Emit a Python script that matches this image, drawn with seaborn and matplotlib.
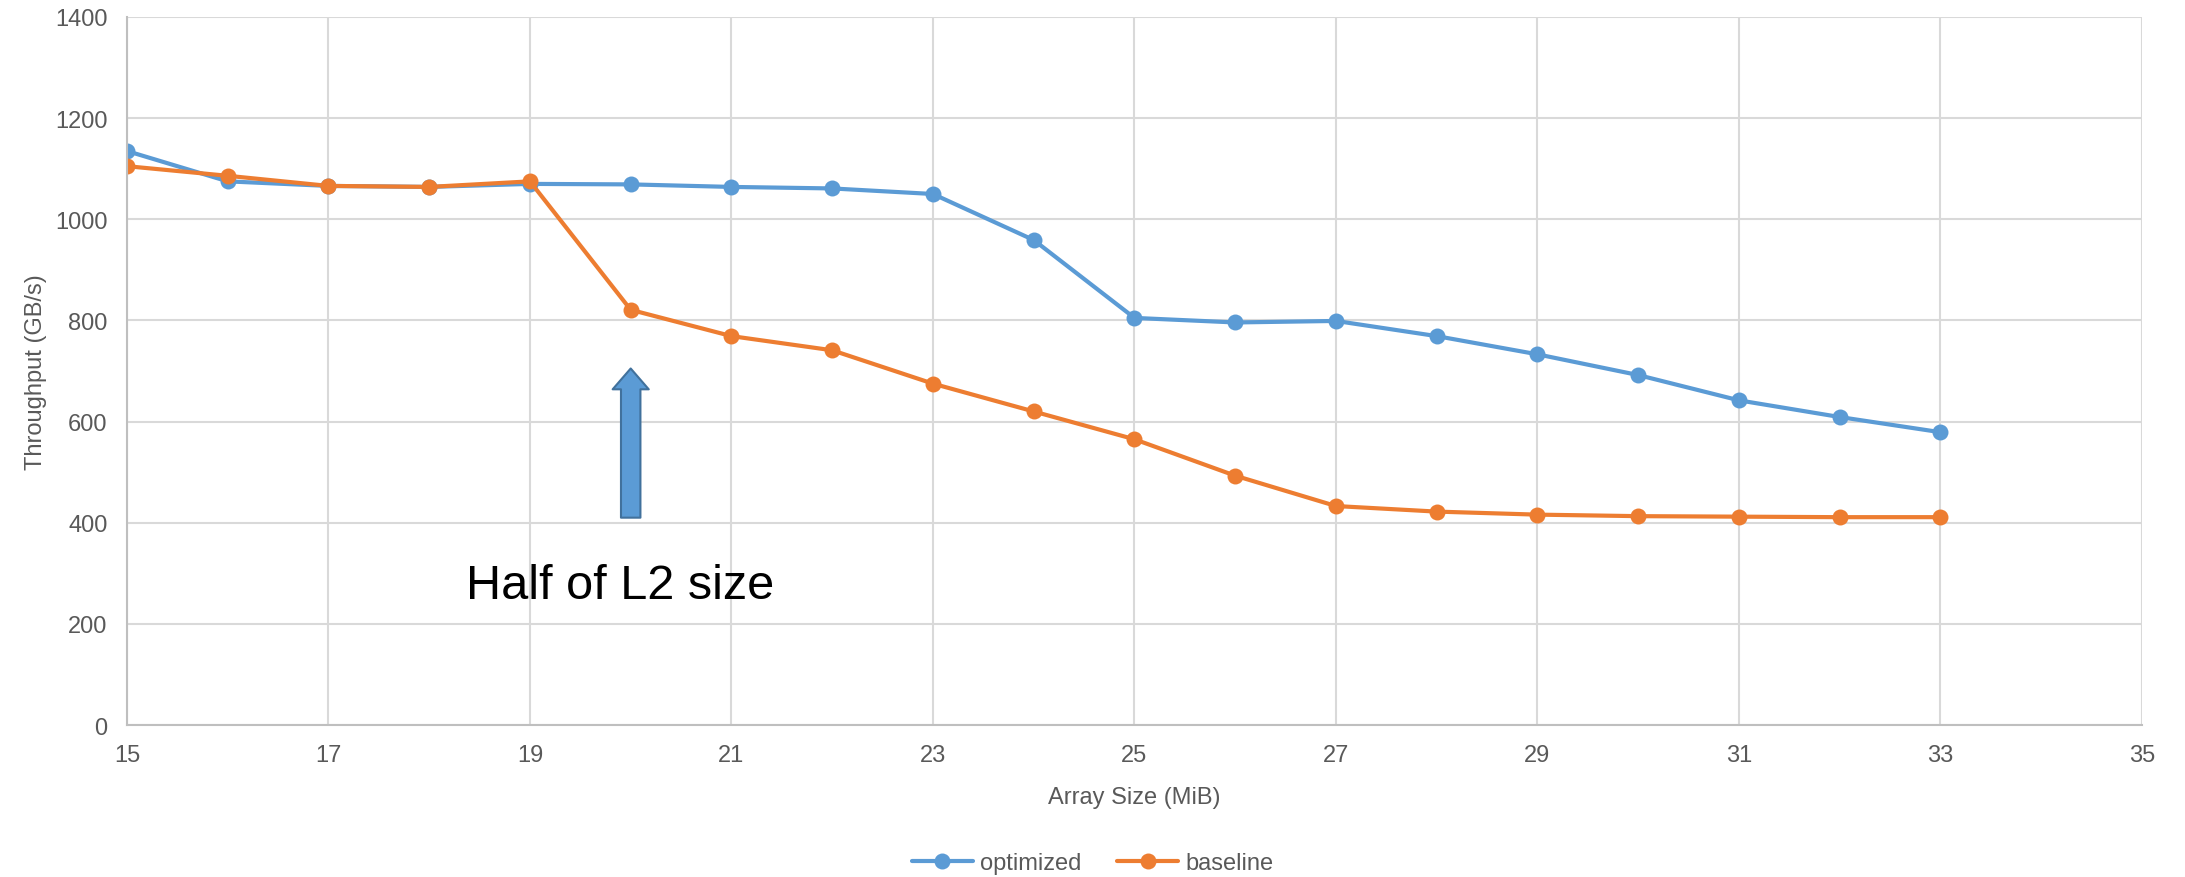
import numpy as np
import pandas as pd
import matplotlib
matplotlib.use("Agg")
import matplotlib.pyplot as plt
import seaborn as sns

# ---- data ----
array_size = [15, 16, 17, 18, 19, 20, 21, 22, 23, 24, 25, 26, 27, 28, 29, 30, 31, 32, 33]
optimized = [1135, 1075, 1066, 1064, 1070, 1069, 1064, 1061, 1050, 959, 805, 796, 799,
             769, 733, 692, 642, 609, 579]
baseline = [1105, 1086, 1066, 1064, 1075, 821, 769, 741, 675, 620, 565, 493, 433,
            422, 416, 413, 412, 411, 411]
series_names = ["optimized", "baseline"]
x_ticks = [15, 17, 19, 21, 23, 25, 27, 29, 31, 33, 35]
y_ticks = [0, 200, 400, 600, 800, 1000, 1200, 1400]
annotation_text = "Half of L2 size"
arrow_x = 20
arrow_y_start = 410
arrow_y_end = 705

df = pd.DataFrame({
    "Array Size (MiB)": array_size * 2,
    "Throughput (GB/s)": optimized + baseline,
    "series": [series_names[0]] * len(array_size) + [series_names[1]] * len(array_size),
})

sns.set_theme(style="white")
plt.rcParams["font.family"] = ["Liberation Sans", "DejaVu Sans"]

fig = plt.figure(figsize=(21.85, 8.78), dpi=100)
ax = fig.add_axes([0.0581, 0.1731, 0.9803 - 0.0581, 0.9795 - 0.1731])

palette = {"optimized": "#5B9BD5", "baseline": "#ED7D31"}
sns.lineplot(data=df, x="Array Size (MiB)", y="Throughput (GB/s)", hue="series",
             hue_order=series_names, palette=palette, marker="o", markersize=11.5,
             markeredgewidth=0, linewidth=3, ax=ax, legend=True)

ax.set_xlim(15, 35)
ax.set_ylim(0, 1400)
ax.set_xticks(x_ticks)
ax.set_yticks(y_ticks)
ax.grid(True, color="#D9D9D9", linewidth=1.5)
ax.set_axisbelow(True)
for side in ["top", "right"]:
    ax.spines[side].set_visible(False)
for side in ["left", "bottom"]:
    ax.spines[side].set_color("#BFBFBF")
    ax.spines[side].set_linewidth(1.5)

tick_color = "#595959"
ax.tick_params(axis="both", length=0, labelsize=17, colors=tick_color)
ax.tick_params(axis="x", pad=14)
ax.tick_params(axis="y", pad=14)
ax.set_xlabel("Array Size (MiB)", fontsize=17, color=tick_color, labelpad=14)
ax.set_ylabel("Throughput (GB/s)", fontsize=17, color=tick_color, labelpad=6)

# arrow annotation
ax.annotate("", xy=(arrow_x, arrow_y_end), xytext=(arrow_x, arrow_y_start),
            arrowprops=dict(arrowstyle="simple,head_length=0.75,head_width=1.3,tail_width=0.7",
                            fc="#5B9BD5", ec="#41719C", lw=1.5, shrinkA=0, shrinkB=0,
                            mutation_scale=20))
ax.text(18.37, 276, annotation_text, fontsize=35, color="black", va="center", ha="left")

leg = ax.legend(loc="center", bbox_to_anchor=(0.5, 1 - 864 / 878), bbox_transform=fig.transFigure,
                ncol=2, frameon=False, fontsize=17, handlelength=2.6, columnspacing=1.5,
                handletextpad=0.3)
for t in leg.get_texts():
    t.set_color(tick_color)

fig.savefig("out.png", dpi=100)
